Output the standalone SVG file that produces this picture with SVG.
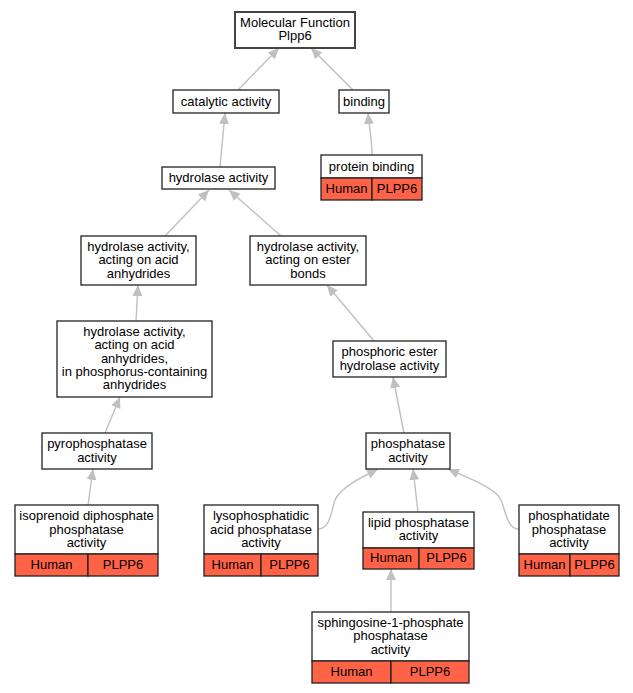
<svg xmlns="http://www.w3.org/2000/svg" width="633" height="693" viewBox="0 0 633 693">
<style>
text{font-family:"Liberation Sans",Arial,sans-serif;font-size:13px;fill:#000;text-anchor:middle}
.b{fill:#fff;stroke:#222;stroke-width:1.3}
.r{fill:#ff6347;stroke:#222;stroke-width:1.3}
.e{fill:none;stroke:#c0c0c0;stroke-width:1.4}
</style>
<defs>
<marker id="a" markerUnits="userSpaceOnUse" markerWidth="12" markerHeight="12" refX="11" refY="5" orient="auto" viewBox="0 0 12 10">
<path d="M0,0 L11,5 L0,10 Z" fill="#c0c0c0"/>
</marker>
</defs>
<rect width="633" height="693" fill="#fff"/>
<g id="edges">
<path class="e" marker-end="url(#a)" d="M238,90 L279,48"/>
<path class="e" marker-end="url(#a)" d="M353,90 L311,48"/>
<path class="e" marker-end="url(#a)" d="M220,167 L225,113"/>
<path class="e" marker-end="url(#a)" d="M372,155 C372,140 369,125 368,113"/>
<path class="e" marker-end="url(#a)" d="M165,236 L209,190"/>
<path class="e" marker-end="url(#a)" d="M281,236 L229,190"/>
<path class="e" marker-end="url(#a)" d="M136,321 L138,285"/>
<path class="e" marker-end="url(#a)" d="M374,341 L327,285"/>
<path class="e" marker-end="url(#a)" d="M105,433 L120,397"/>
<path class="e" marker-end="url(#a)" d="M404,433 L393,377"/>
<path class="e" marker-end="url(#a)" d="M88,505 L93,469"/>
<path class="e" marker-end="url(#a)" d="M318,529 C330,529 331,512 335,500 C340,488 360,478 378,469"/>
<path class="e" marker-end="url(#a)" d="M418,512 L413,469"/>
<path class="e" marker-end="url(#a)" d="M519,529 C507,529 506,512 501,500 C496,488 468,478 448,469"/>
<path class="e" marker-end="url(#a)" d="M391,612 L391,569"/>
</g>
<g id="n1">
<rect x="235" y="12" width="120" height="36" fill="#fff" stroke="#444" stroke-width="2"/>
<text x="295" y="26.5">Molecular Function</text>
<text x="295" y="40">Plpp6</text>
</g>
<g id="n2">
<rect class="b" x="173" y="90" width="106" height="23"/>
<text x="226" y="105.5">catalytic activity</text>
</g>
<g id="n3">
<rect class="b" x="339" y="90" width="50" height="23"/>
<text x="364" y="105.5">binding</text>
</g>
<g id="n4">
<rect class="b" x="162" y="167" width="113" height="22"/>
<text x="218.5" y="182">hydrolase activity</text>
</g>
<g id="n5">
<rect class="b" x="321" y="155" width="101" height="23"/>
<rect class="r" x="321" y="178" width="51" height="22"/>
<rect class="r" x="372" y="178" width="50" height="22"/>
<text x="371.5" y="170.5">protein binding</text>
<text x="346.5" y="193">Human</text>
<text x="397" y="193">PLPP6</text>
</g>
<g id="n6">
<rect class="b" x="81" y="236" width="115" height="49"/>
<text x="138.5" y="250.5">hydrolase activity,</text>
<text x="138.5" y="263.5">acting on acid</text>
<text x="138.5" y="277.5">anhydrides</text>
</g>
<g id="n7">
<rect class="b" x="250" y="236" width="116" height="49"/>
<text x="308" y="250.5">hydrolase activity,</text>
<text x="308" y="263.5">acting on ester</text>
<text x="308" y="277.5">bonds</text>
</g>
<g id="n8">
<rect class="b" x="57" y="321" width="155" height="76"/>
<text x="134.5" y="335.5">hydrolase activity,</text>
<text x="134.5" y="349">acting on acid</text>
<text x="134.5" y="362.5">anhydrides,</text>
<text x="134.5" y="375.5">in phosphorus-containing</text>
<text x="134.5" y="388.5">anhydrides</text>
</g>
<g id="n9">
<rect class="b" x="333" y="341" width="113" height="36"/>
<text x="389.5" y="355.5">phosphoric ester</text>
<text x="389.5" y="369.5">hydrolase activity</text>
</g>
<g id="n10">
<rect class="b" x="42" y="433" width="110" height="36"/>
<text x="97" y="447.5">pyrophosphatase</text>
<text x="97" y="461.5">activity</text>
</g>
<g id="n11">
<rect class="b" x="366" y="433" width="84" height="36"/>
<text x="408" y="447.5">phosphatase</text>
<text x="408" y="461.5">activity</text>
</g>
<g id="n12">
<rect class="b" x="15" y="505" width="143" height="49"/>
<rect class="r" x="15" y="554" width="73" height="22"/>
<rect class="r" x="88" y="554" width="70" height="22"/>
<text x="86.5" y="519.5">isoprenoid diphosphate</text>
<text x="86.5" y="533.5">phosphatase</text>
<text x="86.5" y="546.5">activity</text>
<text x="51.5" y="568.5">Human</text>
<text x="123" y="568.5">PLPP6</text>
</g>
<g id="n13">
<rect class="b" x="204" y="505" width="114" height="49"/>
<rect class="r" x="204" y="554" width="57" height="22"/>
<rect class="r" x="261" y="554" width="57" height="22"/>
<text x="261" y="519.5">lysophosphatidic</text>
<text x="261" y="533.5">acid phosphatase</text>
<text x="261" y="546.5">activity</text>
<text x="232.5" y="568.5">Human</text>
<text x="289.5" y="568.5">PLPP6</text>
</g>
<g id="n14">
<rect class="b" x="363" y="512" width="111" height="36"/>
<rect class="r" x="363" y="548" width="56" height="21"/>
<rect class="r" x="419" y="548" width="55" height="21"/>
<text x="418.5" y="526.5">lipid phosphatase</text>
<text x="418.5" y="539.5">activity</text>
<text x="391" y="561.5">Human</text>
<text x="446.5" y="561.5">PLPP6</text>
</g>
<g id="n15">
<rect class="b" x="519" y="505" width="100" height="49"/>
<rect class="r" x="519" y="554" width="51" height="22"/>
<rect class="r" x="570" y="554" width="49" height="22"/>
<text x="569" y="519.5">phosphatidate</text>
<text x="569" y="533.5">phosphatase</text>
<text x="569" y="546.5">activity</text>
<text x="544.5" y="568.5">Human</text>
<text x="594.5" y="568.5">PLPP6</text>
</g>
<g id="n16">
<rect class="b" x="312" y="612" width="157" height="49"/>
<rect class="r" x="312" y="661" width="79" height="22"/>
<rect class="r" x="391" y="661" width="78" height="22"/>
<text x="390.5" y="626.5">sphingosine-1-phosphate</text>
<text x="390.5" y="639.5">phosphatase</text>
<text x="390.5" y="653.5">activity</text>
<text x="351.5" y="675.5">Human</text>
<text x="430" y="675.5">PLPP6</text>
</g>
</svg>
